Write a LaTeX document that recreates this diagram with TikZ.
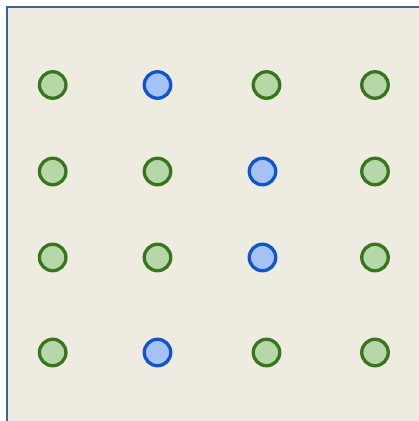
\documentclass[tikz,border=0pt]{standalone}
\usepackage{xcolor}
\usepackage{tikz}
\usetikzlibrary{positioning}
\definecolor{panelbg}{HTML}{EEECE1}
\definecolor{panelline}{HTML}{3E6193}
\definecolor{greenline}{HTML}{38761D}
\definecolor{greenfill}{HTML}{B6D7A8}
\definecolor{blueline}{HTML}{1155CC}
\definecolor{bluefill}{HTML}{A4C2F4}

\begin{document}
\begin{tikzpicture}[x=1pt, y=1pt,
  dot/.style={circle, inner sep=0pt, minimum size=26.5pt, line width=3.3pt},
  greendot/.style={dot, draw=greenline, fill=greenfill},
  bluedot/.style={dot, draw=blueline, fill=bluefill}
]
\useasboundingbox (0,0) rectangle (419,421);
% --- background panel (runs off right and bottom edge) ---
\begin{scope}
\clip (0,0) rectangle (419,421);
\draw[panelline, line width=2.2pt, fill=panelbg] (7,414) rectangle (440,-20);
\end{scope}
% --- row 1 ---
\node[greendot] (n11) at (52.7,336) {};
\node[bluedot]  (n12) at (157.5,336) {};
\node[greendot] (n13) at (266.5,336) {};
\node[greendot] (n14) at (375,336) {};
% --- row 2 ---
\node[greendot] (n21) at (52.7,249.5) {};
\node[greendot] (n22) at (157.5,249.5) {};
\node[bluedot]  (n23) at (262.5,249.5) {};
\node[greendot] (n24) at (375,249.5) {};
% --- row 3 ---
\node[greendot] (n31) at (52.7,163.5) {};
\node[greendot] (n32) at (157.5,163.5) {};
\node[bluedot]  (n33) at (262.5,163.5) {};
\node[greendot] (n34) at (375,163.5) {};
% --- row 4 ---
\node[greendot] (n41) at (52.7,68.5) {};
\node[bluedot]  (n42) at (157.5,68.5) {};
\node[greendot] (n43) at (266.5,68.5) {};
\node[greendot] (n44) at (375,68.5) {};
\end{tikzpicture}
\end{document}
